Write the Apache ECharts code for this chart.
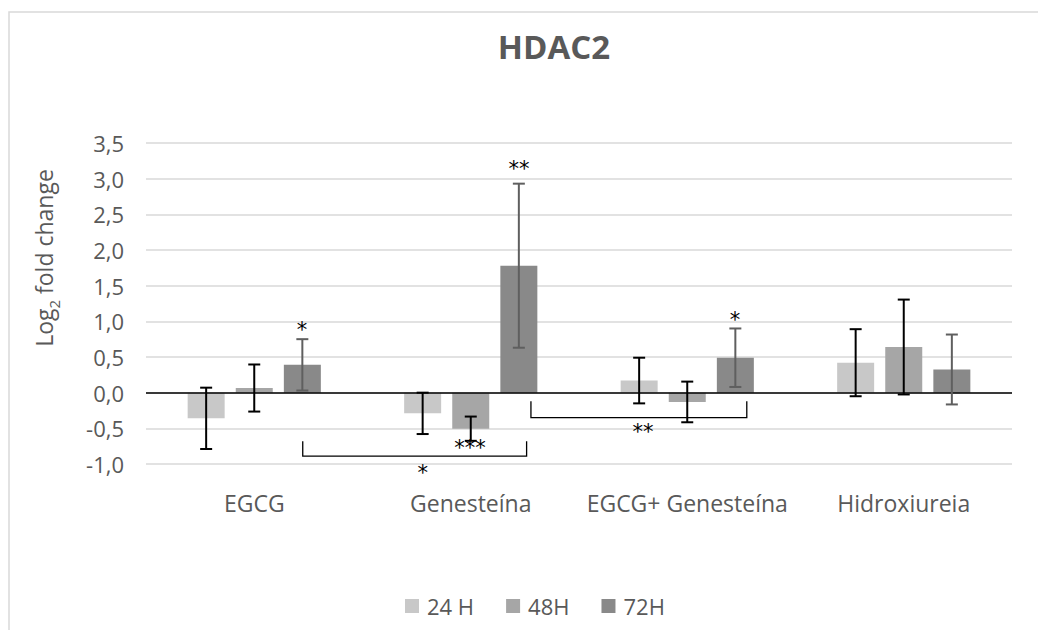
<!DOCTYPE html>
<html>
<head>
<meta charset="utf-8">
<script src="https://cdn.jsdelivr.net/npm/echarts@6/dist/echarts.min.js"></script>
<style>html,body{margin:0;padding:0;background:#fff}#c{width:1038px;height:630px}</style>
</head>
<body>
<div id="c"></div>
<script>
const categories = ['EGCG', 'Genesteína', 'EGCG+ Genesteína', 'Hidroxiureia'];
const seriesNames = ['24 H', '48H', '72H'];
const values24 = [-0.36, -0.29, 0.17, 0.42];
const values48 = [0.065, -0.505, -0.13, 0.64];
const values72 = [0.39, 1.78, 0.49, 0.325];
const err24 = [0.43, 0.29, 0.32, 0.47];
const err48 = [0.33, 0.17, 0.285, 0.665];
const err72 = [0.36, 1.15, 0.41, 0.49];
const yTicks = [-1.0, -0.5, 0.0, 0.5, 1.0, 1.5, 2.0, 2.5, 3.0, 3.5];
// significance brackets: [x start, x end, y top, y bottom] (x in category units 0..4)
const brackets = [[0.724, 1.758, -0.68, -0.89], [1.778, 2.775, -0.12, -0.35]];
// significance marks: [x, y, text]
const marks = [
  [0.72, 0.88, '*'], [1.723, 3.13, '**'], [2.72, 1.02, '*'],
  [1.497, -0.78, '***'], [1.278, -1.13, '*'], [2.296, -0.55, '**']
];

const colors = ['#c8c8c8', '#a6a6a6', '#898989'];
const errColors = ['#000000', '#000000', '#5f5f5f'];
const valueSets = [values24, values48, values72];
const errSets = [err24, err48, err72];
const BAR_W = 37, BAR_GAP = 0.3;
const FONT = '"Open Sans", Lato, sans-serif';

const chart = echarts.init(document.getElementById('c'), null, {renderer: 'svg'});

const series = [];
valueSets.forEach((vals, k) => {
  series.push({
    name: seriesNames[k], type: 'bar', data: vals,
    barWidth: BAR_W, barGap: (BAR_GAP * 100) + '%',
    itemStyle: {color: colors[k]},
    xAxisIndex: 0, yAxisIndex: 0, z: 2,
    markLine: k === 0 ? {
      silent: true, symbol: 'none', label: {show: false},
      lineStyle: {color: '#000', width: 1.6, type: 'solid'},
      data: [{yAxis: 0}], z: 5
    } : undefined
  });
});
valueSets.forEach((vals, k) => {
  const offset = (k - 1) * BAR_W * (1 + BAR_GAP);
  series.push({
    type: 'custom', xAxisIndex: 0, yAxisIndex: 0, z: 10, silent: true,
    data: vals.map((v, i) => [i, v, errSets[k][i]]),
    encode: {x: 0, y: 1},
    renderItem: function (params, api) {
      const i = api.value(0), v = api.value(1), e = api.value(2);
      const top = api.coord([i, v + e]);
      const bot = api.coord([i, v - e]);
      const x = top[0] + offset;
      const cap = 6;
      const st = {stroke: errColors[k], lineWidth: 2};
      return {type: 'group', children: [
        {type: 'line', shape: {x1: x, y1: top[1], x2: x, y2: bot[1]}, style: st},
        {type: 'line', shape: {x1: x - cap, y1: top[1], x2: x + cap, y2: top[1]}, style: st},
        {type: 'line', shape: {x1: x - cap, y1: bot[1], x2: x + cap, y2: bot[1]}, style: st}
      ]};
    }
  });
});
series.push({
  type: 'custom', xAxisIndex: 1, yAxisIndex: 0, z: 11, silent: true,
  data: brackets,
  renderItem: function (params, api) {
    const a = api.coord([api.value(0), api.value(2)]);
    const b = api.coord([api.value(1), api.value(3)]);
    return {type: 'polyline', shape: {points: [[a[0], a[1]], [a[0], b[1]], [b[0], b[1]], [b[0], a[1]]]},
      style: {stroke: '#000', lineWidth: 1.3, fill: null}};
  }
});
series.push({
  type: 'custom', xAxisIndex: 1, yAxisIndex: 0, z: 12, silent: true,
  data: marks,
  renderItem: function (params, api) {
    const p = api.coord([api.value(0), api.value(1)]);
    return {type: 'text', x: p[0], y: p[1],
      style: {text: marks[params.dataIndex][2], fill: '#000', font: '21px "DejaVu Sans", sans-serif',
        textAlign: 'center', textVerticalAlign: 'middle'}};
  }
});

chart.setOption({
  backgroundColor: '#fff',
  animation: false,
  textStyle: {fontFamily: FONT},
  grid: {left: 146, right: 26, top: 143, bottom: 166, containLabel: false},
  legend: {
    data: seriesNames, left: 400, top: 590, itemWidth: 14, itemHeight: 14, itemGap: 32,
    icon: 'rect', textStyle: {color: '#595959', fontSize: 22, fontFamily: FONT, padding: [0, 0, 0, 3]}
  },
  xAxis: [{
    type: 'category', data: categories,
    axisLine: {show: false, onZero: false}, axisTick: {show: false},
    axisLabel: {color: '#595959', fontSize: 23, margin: 27, fontFamily: FONT, interval: 0}
  }, {
    type: 'value', min: 0, max: 4, show: false
  }],
  yAxis: {
    type: 'value', min: -1, max: 3.5, interval: 0.5,
    axisLine: {show: false}, axisTick: {show: false},
    axisLabel: {color: '#595959', fontSize: 22, margin: 22, fontFamily: FONT,
      formatter: v => v.toFixed(1).replace('.', ',')},
    splitLine: {lineStyle: {color: '#d9d9d9', width: 1.5}}
  },
  graphic: [
    {type: 'rect', shape: {x: 9, y: 12, width: 1040, height: 640},
      style: {fill: null, stroke: '#d9d9d9', lineWidth: 1.5}, silent: true},
    {type: 'text', x: 554, y: 46, style: {text: 'HDAC2', fill: '#595959',
      font: 'bold 33px ' + FONT, textAlign: 'center', textVerticalAlign: 'middle'}},
    {type: 'text', x: 40, y: 258, rotation: Math.PI / 2,
      style: {text: '{a|Log}{s|2}{a| fold change}', textAlign: 'center', textVerticalAlign: 'middle',
        rich: {a: {fontSize: 23, fontFamily: FONT, fill: '#595959', lineHeight: 30, verticalAlign: 'bottom'},
               s: {fontSize: 15, fontFamily: FONT, fill: '#595959', lineHeight: 30, verticalAlign: 'bottom', padding: [0,0,-6,0]}}}}
  ],
  series: series
});
</script>
</body>
</html>
